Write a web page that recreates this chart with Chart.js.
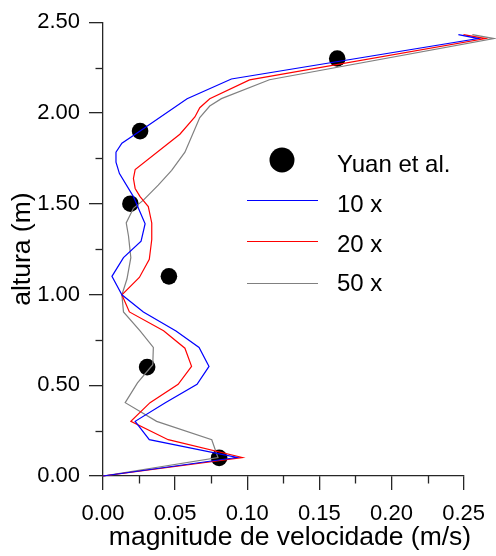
<!DOCTYPE html>
<html><head><meta charset="utf-8">
<script src="https://cdn.jsdelivr.net/npm/chart.js@4"></script>
<style>html,body{margin:0;padding:0;background:#fff;}canvas{display:block;}</style>
</head><body>
<canvas id="c" width="496" height="556"></canvas>
<script>
// ---- data ----
const seriesLabels = ['Yuan et al.', '10 x', '20 x', '50 x'];
const yuanVel    = [0.0805, 0.0306, 0.0457, 0.0190, 0.0257, 0.1624];
const yuanHeight = [0.10,   0.60,   1.10,   1.50,   1.90,   2.30];

const vel10x    = [0, 0.0928, 0.0321, 0.0223, 0.0432, 0.0652, 0.0735, 0.0666, 0.0506, 0.0280, 0.0131, 0.0062, 0.0142, 0.0264, 0.0292, 0.0211, 0.0114, 0.0090, 0.0090, 0.0131, 0.0257, 0.0583, 0.0890, 0.2602, 0.2464];
const height10x = [0, 0.102, 0.200, 0.301, 0.404, 0.505, 0.604, 0.708, 0.799, 0.904, 0.998, 1.100, 1.203, 1.294, 1.390, 1.539, 1.666, 1.729, 1.784, 1.833, 1.901, 2.078, 2.187, 2.410, 2.432];

const vel20x    = [0, 0.0966, 0.0452, 0.0193, 0.0326, 0.0521, 0.0614, 0.0568, 0.0420, 0.0183, 0.0131, 0.0252, 0.0321, 0.0338, 0.0338, 0.0314, 0.0257, 0.0223, 0.0211, 0.0223, 0.0533, 0.0637, 0.0671, 0.0740, 0.1016, 0.2652, 0.2499];
const height20x = [0, 0.102, 0.200, 0.301, 0.404, 0.505, 0.604, 0.704, 0.800, 0.904, 0.998, 1.094, 1.194, 1.303, 1.394, 1.484, 1.539, 1.584, 1.639, 1.688, 1.883, 1.978, 2.029, 2.078, 2.182, 2.410, 2.432];

const vel50x    = [0, 0.0797, 0.0754, 0.0372, 0.0154, 0.0239, 0.0345, 0.0349, 0.0257, 0.0142, 0.0131, 0.0166, 0.0193, 0.0177, 0.0161, 0.0211, 0.0280, 0.0383, 0.0476, 0.0568, 0.0671, 0.0740, 0.0821, 0.1154, 0.2710, 0.2561];
const height50x = [0, 0.102, 0.200, 0.301, 0.404, 0.513, 0.613, 0.708, 0.799, 0.904, 0.998, 1.085, 1.203, 1.321, 1.394, 1.475, 1.520, 1.602, 1.684, 1.784, 1.975, 2.038, 2.079, 2.183, 2.410, 2.432];

const xTicks = [0, 0.05, 0.10, 0.15, 0.20, 0.25];
const yTicks = [0, 0.50, 1.00, 1.50, 2.00, 2.50];
const xTitle = 'magnitude de velocidade (m/s)';
const yTitle = 'altura (m)';

// ---- styles ----
const FONT = "'Liberation Sans', Arial, sans-serif";
const AXIS = '#262626';
const colors = ['#000000', '#0000ff', '#ff0000', '#808080'];

function pts(xs, ys) { return xs.map((x, i) => ({ x: x, y: ys[i] })); }

const minorTicks = {
  id: 'minorTicks',
  afterDraw(chart) {
    const ctx = chart.ctx, sx = chart.scales.x, sy = chart.scales.y;
    ctx.save();
    ctx.strokeStyle = AXIS; ctx.lineWidth = 1.3;
    for (let i = 0; i < xTicks.length - 1; i++) {
      const p = Math.round(sx.getPixelForValue((xTicks[i] + xTicks[i + 1]) / 2)) + 0.5;
      ctx.beginPath(); ctx.moveTo(p, sx.top); ctx.lineTo(p, sx.top + 7.5); ctx.stroke();
    }
    for (let i = 0; i < yTicks.length - 1; i++) {
      const p = Math.round(sy.getPixelForValue((yTicks[i] + yTicks[i + 1]) / 2)) + 0.5;
      ctx.beginPath(); ctx.moveTo(sy.right, p); ctx.lineTo(sy.right - 7.5, p); ctx.stroke();
    }
    ctx.restore();
  }
};

const titlesAndLegend = {
  id: 'titlesAndLegend',
  afterDraw(chart) {
    const ctx = chart.ctx;
    ctx.save();
    // axis titles
    ctx.fillStyle = '#000';
    ctx.font = '26.5px ' + FONT;
    ctx.textAlign = 'center';
    ctx.textBaseline = 'middle';
    ctx.fillText(xTitle, 290, 538);
    ctx.save();
    ctx.translate(23, (chart.chartArea.top + chart.chartArea.bottom) / 2);
    ctx.rotate(-Math.PI / 2);
    ctx.fillText(yTitle, 0, 0);
    ctx.restore();
    // legend
    const rowY = [160, 200.5, 241.5, 283.5];
    const baseY = [171.5, 211.5, 251.5, 290.5];
    ctx.font = '24px ' + FONT;
    ctx.textBaseline = 'alphabetic';
    ctx.textAlign = 'left';
    for (let r = 0; r < 4; r++) {
      if (r === 0) {
        ctx.fillStyle = colors[0];
        ctx.beginPath(); ctx.arc(282, rowY[r], 12.5, 0, Math.PI * 2); ctx.fill();
      } else {
        ctx.strokeStyle = colors[r]; ctx.lineWidth = 1.2;
        ctx.beginPath(); ctx.moveTo(247, rowY[r]); ctx.lineTo(318, rowY[r]); ctx.stroke();
      }
      ctx.fillStyle = '#000';
      ctx.fillText(seriesLabels[r], 337, baseY[r]);
    }
    ctx.restore();
  }
};

new Chart(document.getElementById('c'), {
  type: 'scatter',
  data: {
    datasets: [
      { label: seriesLabels[1], data: pts(vel10x, height10x), showLine: true, borderColor: colors[1], backgroundColor: colors[1], borderWidth: 1.2, pointRadius: 0, clip: false, order: 1 },
      { label: seriesLabels[2], data: pts(vel20x, height20x), showLine: true, borderColor: colors[2], backgroundColor: colors[2], borderWidth: 1.2, pointRadius: 0, clip: false, order: 2 },
      { label: seriesLabels[3], data: pts(vel50x, height50x), showLine: true, borderColor: colors[3], backgroundColor: colors[3], borderWidth: 1.2, pointRadius: 0, clip: false, order: 3 },
      { label: seriesLabels[0], data: pts(yuanVel, yuanHeight), showLine: false, backgroundColor: colors[0], borderColor: colors[0], borderWidth: 0, pointRadius: 8.3, clip: false, order: 10 }
    ]
  },
  options: {
    responsive: false,
    animation: false,
    devicePixelRatio: 1,
    layout: { padding: { left: 0, top: 17, right: 31, bottom: 0 } },
    plugins: { legend: { display: false }, tooltip: { enabled: false } },
    scales: {
      x: {
        type: 'linear', min: 0, max: 0.25,
        afterBuildTicks: s => { s.ticks = xTicks.map(v => ({ value: v })); },
        afterFit: s => { s.height = 80; },
        grid: { drawOnChartArea: false, tickLength: 14, color: AXIS, lineWidth: 1.3 },
        border: { display: true, color: AXIS, width: 1.3 },
        ticks: { color: '#000', font: { family: FONT, size: 22 }, padding: 11, maxRotation: 0, callback: v => v.toFixed(2) },
        title: { display: false }
      },
      y: {
        type: 'linear', min: 0, max: 2.5,
        afterBuildTicks: s => { s.ticks = yTicks.map(v => ({ value: v })); },
        afterFit: s => { s.width = 103; },
        grid: { drawOnChartArea: false, tickLength: 14, color: AXIS, lineWidth: 1.3 },
        border: { display: true, color: AXIS, width: 1.3 },
        ticks: { color: '#000', font: { family: FONT, size: 22 }, padding: 9, callback: v => v.toFixed(2) },
        title: { display: false }
      }
    }
  },
  plugins: [minorTicks, titlesAndLegend]
});
</script>
</body></html>
